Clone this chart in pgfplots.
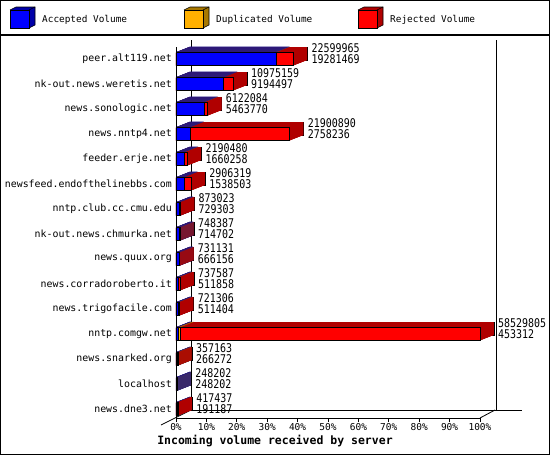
\documentclass[border=0pt]{standalone}
\usepackage{fontspec}
\setmainfont{DejaVu Sans Mono}
\newfontfamily\numfont[FakeStretch=0.83]{DejaVu Sans Mono}
\usepackage{pgfplots}
\usepackage{pgfplotstable}
\pgfplotsset{compat=1.18}

\definecolor{accF}{HTML}{0000FF}
\definecolor{accD}{HTML}{0000A8}
\definecolor{dupF}{HTML}{FFB000}
\definecolor{dupD}{HTML}{A87800}
\definecolor{rejF}{HTML}{FF0000}
\definecolor{rejD}{HTML}{B00000}

% percent of the largest total (acc = accepted, accdup = accepted+duplicated,
% rtot = total where something was rejected); raw numbers for the labels
\pgfplotstableread{
idx tot rtot accdup acc tots accs
14 38.613 38.613 32.943 32.943 22599965 19281469
13 18.751 18.751 15.709 15.709 10975159 9194497
12 10.460 10.460 9.335 9.335 6122084 5463770
11 37.418 37.418 4.713 4.713 21900890 2758236
10 3.743 3.743 2.837 2.837 2190480 1660258
9 4.966 4.966 2.629 2.629 2906319 1538503
8 1.492 1.492 1.246 1.246 873023 729303
7 1.279 1.279 1.221 1.221 748387 714702
6 1.249 1.249 1.138 1.138 731131 666156
5 1.260 1.260 0.875 0.875 737587 511858
4 1.232 1.232 0.874 0.874 721306 511404
3 100 100 1.45 0.775 58529805 453312
2 0.610 0.610 0.455 0.455 357163 266272
1 0.424 nan 0.424 0.424 248202 248202
0 0.713 0.713 0.327 0.327 417437 191187
}\servers

\pgfplotsset{bar3d/.style={xbar, bar width=#1, bar shift=0pt}, bar3d/.default=13pt}

\newcommand\legcube[4]{%
  \fill[#3] (#1,-10) -- (#1+6,-7) -- (#1+25,-7) -- (#1+25,-25) -- (#1+19,-28) -- (#1+19,-10) -- cycle;
  \draw[line width=0.6pt] (#1,-10) -- (#1+6,-7) -- (#1+25,-7) -- (#1+25,-25) -- (#1+19,-28);
  \draw[line width=0.6pt] (#1+19,-10) -- (#1+25,-7);
  \draw[fill=#2, line width=0.6pt] (#1,-10) rectangle (#1+19,-28);
  \node[anchor=west, inner sep=0pt, font=\fontsize{9.4}{11}\selectfont] at (#1+32,-19.5) {#4};
}

\begin{document}
\begin{tikzpicture}[x=1pt,y=1pt]
\useasboundingbox (0,0) rectangle (550,-455);
\draw[line width=1.2pt] (0.6,-0.6) rectangle (549.4,-454.4);
\draw[line width=1.2pt] (0,-35) -- (550,-35);

\legcube{10}{accF}{accD}{Accepted Volume}
\legcube{184}{dupF}{dupD}{Duplicated Volume}
\legcube{358}{rejF}{rejD}{Rejected Volume}

% back wall and floor
\draw[line width=0.8pt] (191,-40) -- (191,-410) -- (522,-410);
\draw[line width=0.8pt] (496,-40) -- (496,-410);
\draw[line width=0.8pt] (161,-425) -- (191,-410);
\draw[line width=0.8pt] (480,-418) -- (495,-410);

\begin{axis}[
  at={(176pt,-418pt)}, anchor=south west,
  scale only axis, width=304pt, height=371.5pt,
  xmin=0, xmax=100, ymin=-0.36, ymax=14.5,
  clip=false,
  axis x line*=bottom, axis y line*=left,
  axis line style={line width=0.8pt},
  tick align=outside, major tick length=4pt,
  xtick={0,10,...,100},
  xticklabels={0\%,10\%,20\%,30\%,40\%,50\%,60\%,70\%,80\%,90\%,100\%},
  xtick style={line width=0.8pt, black},
  xticklabel style={font=\fontsize{9.5}{10}\selectfont, inner sep=0pt, yshift=-1pt},
  ytick={0,...,14},
  yticklabels={news.dne3.net,localhost,news.snarked.org,nntp.comgw.net,news.trigofacile.com,news.corradoroberto.it,news.quux.org,nk-out.news.chmurka.net,nntp.club.cc.cmu.edu,newsfeed.endofthelinebbs.com,feeder.erje.net,news.nntp4.net,news.sonologic.net,nk-out.news.weretis.net,peer.alt119.net},
  ytick style={draw=none},
  yticklabel style={font=\fontsize{9.9}{11}\selectfont, inner sep=0pt},
]
% farthest layer with outline
\addplot[bar3d, fill=rejD, draw=black, line width=0.6pt, xshift=14pt, yshift=5.5pt] table[x=rtot,y=idx]{\servers};
\addplot[bar3d, fill=dupD, draw=black, line width=0.6pt, xshift=14pt, yshift=5.5pt] table[x=accdup,y=idx]{\servers};
\addplot[bar3d, fill=accD, draw=black, line width=0.6pt, xshift=14pt, yshift=5.5pt] table[x=acc,y=idx]{\servers};
% depth layers (upper segments a little taller, blue pulled back a hair,
% so no edge of the segment below shows through)
\pgfplotsinvokeforeach{55,54,...,1}{
  \addplot[bar3d=13pt, fill=rejD, draw=none, xshift=#1*0.25pt, yshift=#1*0.0982pt] table[x=rtot,y=idx]{\servers};
  \addplot[bar3d=13.3pt, fill=dupD, draw=none, xshift=#1*0.25pt-0.1pt, yshift=#1*0.0982pt] table[x=accdup,y=idx]{\servers};
  \addplot[bar3d=13.6pt, fill=accD, draw=none, xshift=#1*0.25pt-0.2pt, yshift=#1*0.0982pt] table[x=acc,y=idx]{\servers};
}
% front faces
\addplot[bar3d, fill=rejF, draw=black, line width=0.6pt] table[x=rtot,y=idx]{\servers};
\addplot[bar3d, fill=dupF, draw=black, line width=0.6pt] table[x=accdup,y=idx]{\servers};
\addplot[bar3d, fill=accF, draw=black, line width=0.6pt] table[x=acc,y=idx]{\servers};
% value labels
\addplot[only marks, mark=none, nodes near coords, point meta=explicit symbolic,
  nodes near coords style={anchor=west, inner sep=0pt, xshift=18pt, yshift=11pt, font=\numfont\fontsize{12}{12}\selectfont, text=black}]
  table[x=tot,y=idx,meta=tots]{\servers};
\addplot[only marks, mark=none, nodes near coords, point meta=explicit symbolic,
  nodes near coords style={anchor=west, inner sep=0pt, xshift=18pt, yshift=0pt, font=\numfont\fontsize{12}{12}\selectfont, text=black}]
  table[x=tot,y=idx,meta=accs]{\servers};
\end{axis}

\node[font=\bfseries\fontsize{11.5}{12}\selectfont] at (275,-441) {Incoming volume received by server};
\end{tikzpicture}
\end{document}
